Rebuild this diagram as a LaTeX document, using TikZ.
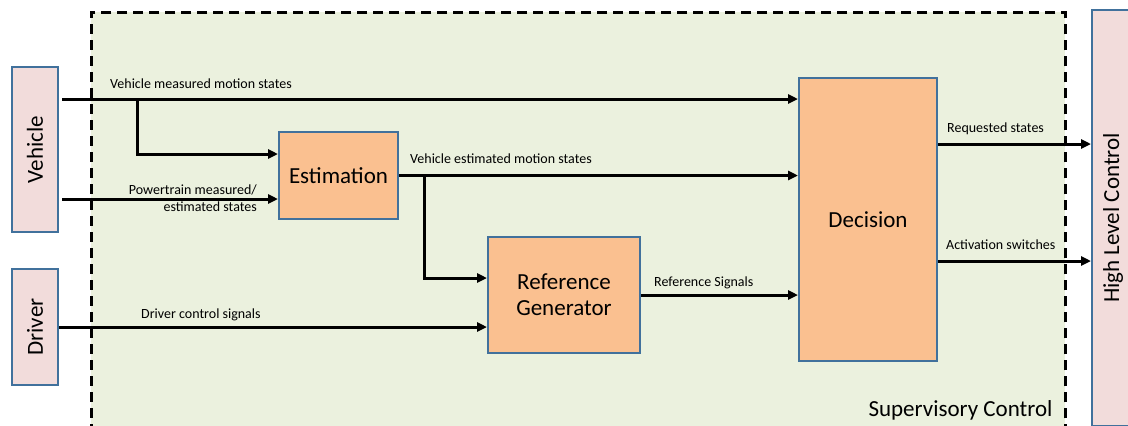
\documentclass[tikz,border=0pt]{standalone}
\usepackage{fontspec}
\setmainfont{Carlito}
\usetikzlibrary{arrows.meta,calc}
\definecolor{supgreen}{HTML}{EBF1DE}
\definecolor{extpink}{HTML}{F2DCDB}
\definecolor{blkorange}{HTML}{FAC090}
\definecolor{bordblue}{HTML}{41719C}
\begin{document}
\begin{tikzpicture}[x=1pt,y=-1pt,
  supbox/.style={draw=black, fill=supgreen, line width=2.5pt, dash pattern=on 10pt off 6pt},
  ext/.style={draw=bordblue, fill=extpink, line width=2pt},
  blk/.style={draw=bordblue, fill=blkorange, line width=2pt, font=\fontsize{23}{27}\selectfont, align=center},
  bigtxt/.style={font=\fontsize{23}{27}\selectfont},
  arr/.style={line width=3pt, -{Triangle[length=10pt,width=9pt]}},
  lbl/.style={font=\fontsize{14}{17}\selectfont, inner sep=1pt}]
\useasboundingbox (0,0) rectangle (1128,426);
\clip (0,0) rectangle (1128,426);
\fill[white] (0,0) rectangle (1128,426);
% supervisory region
\node[supbox, minimum width=974, minimum height=440, anchor=north west] (sup) at (90,11) {};
\node[bigtxt, anchor=base east] (suplbl) at (1056,416) {Supervisory Control};
% external boxes
\node[ext, minimum width=46, minimum height=165, label={[bigtxt,rotate=90]center:Vehicle}] (veh) at (35,149.5) {};
\node[ext, minimum width=46, minimum height=116, label={[bigtxt,rotate=90]center:Driver}] (drv) at (35,327) {};
\node[ext, minimum width=42, minimum height=416, label={[bigtxt,rotate=90]center:High Level Control}] (hlc) at (1113,218) {};
% blocks
\node[blk, minimum width=119, minimum height=87] (est) at (338.5,175.5) {Estimation};
\node[blk, minimum width=152, minimum height=116] (ref) at (564,295) {Reference\\[-1pt]Generator};
\node[blk, minimum width=138, minimum height=283] (dec) at (868,219.5) {Decision};
% connectors
\coordinate (vm) at ([xshift=3pt,yshift=50.5pt]veh.east);
\draw[arr] (vm) -- (vm -| dec.west);
\coordinate (b1) at (137,99);
\draw[arr] (b1) |- ([yshift=21.5pt]est.west);
\coordinate (pt) at ([xshift=3pt,yshift=-49.5pt]veh.east);
\draw[arr] (pt) -- (pt -| est.west);
\draw[arr] (est.east) -- (est.east -| dec.west);
\coordinate (b2) at (424,175.5);
\draw[arr] (b2) |- ([yshift=17pt]ref.west);
\draw[arr] (drv.east) -- (drv.east -| ref.west);
\draw[arr] (ref.east) -- (ref.east -| dec.west);
\coordinate (d1) at ([yshift=75.5pt]dec.east);
\draw[arr] (d1) -- (d1 -| hlc.west);
\coordinate (d2) at ([yshift=-41.5pt]dec.east);
\draw[arr] (d2) -- (d2 -| hlc.west);
% labels
\node[lbl, anchor=west] (l1) at (109,84) {Vehicle measured motion states};
\node[lbl, anchor=east, align=right] (l2) at (258,198.5) {Powertrain measured/\\estimated states};
\node[lbl, anchor=west] (l3) at (409,159) {Vehicle estimated motion states};
\node[lbl, anchor=west] (l4) at (140,315) {Driver control signals};
\node[lbl, anchor=west] (l5) at (653,283) {Reference Signals};
\node[lbl, anchor=west] (l6) at (946,129) {Requested states};
\node[lbl, anchor=west] (l7) at (945,245) {Activation switches};
\end{tikzpicture}
\end{document}
